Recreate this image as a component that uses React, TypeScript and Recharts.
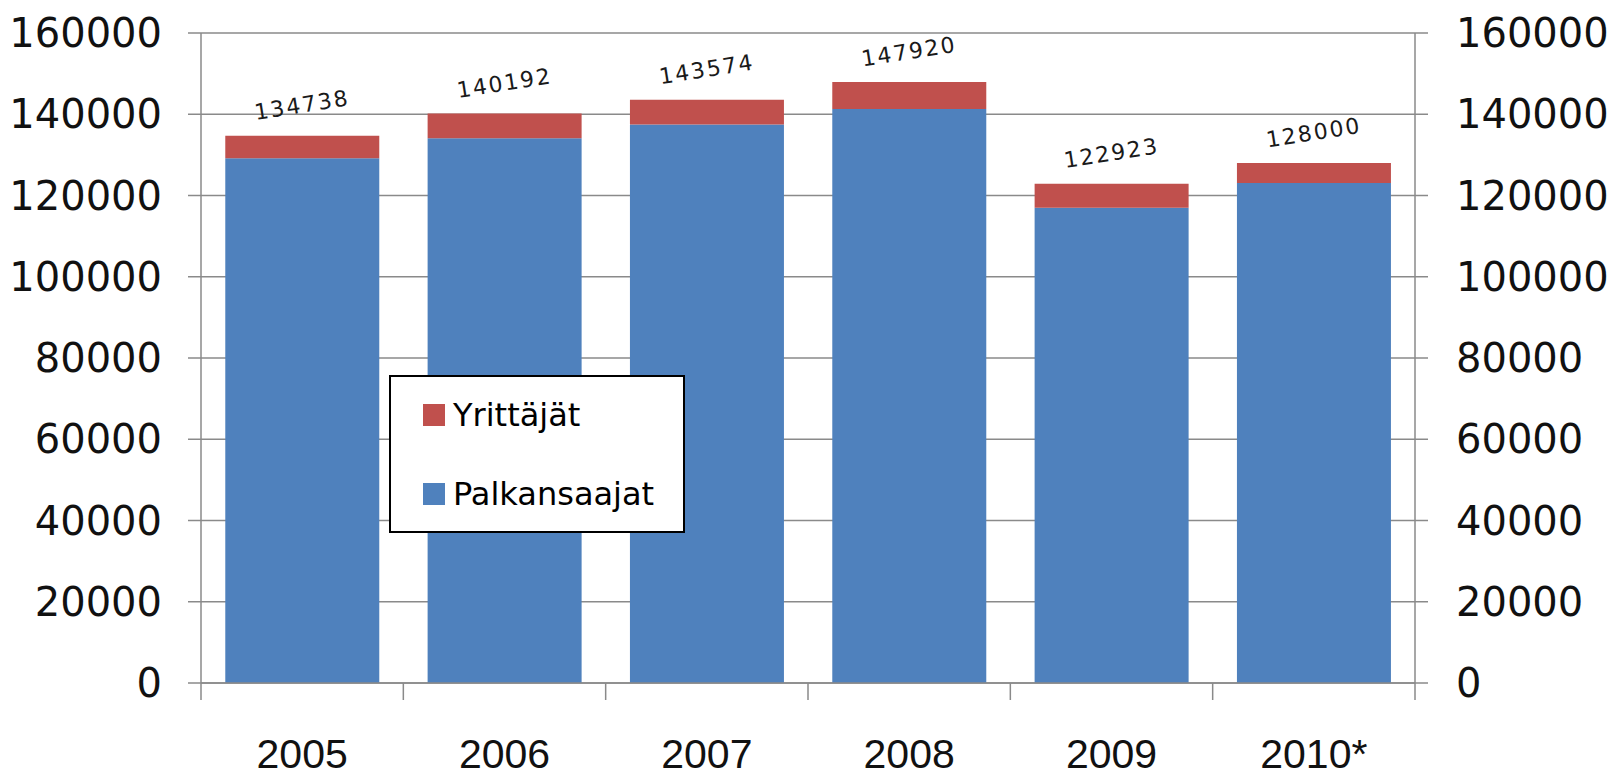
import React from 'react';
import { BarChart, Bar, XAxis, YAxis, CartesianGrid, Legend, LabelList } from 'recharts';

const years = ['2005', '2006', '2007', '2008', '2009', '2010*'];
const palkansaajat = [129200, 134100, 137500, 141300, 117000, 123100];
const yrittajat = [5538, 6092, 6074, 6620, 5923, 4900];
const totals = [134738, 140192, 143574, 147920, 122923, 128000];
const yTicks = [0, 20000, 40000, 60000, 80000, 100000, 120000, 140000, 160000];
// category boundaries for the x axis tick marks
const boundaryTicks = [0, 1, 2, 3, 4, 5, 6];

const data = years.map((year, i) => ({
  year,
  palkansaajat: palkansaajat[i],
  yrittajat: yrittajat[i],
  total: totals[i],
}));

const AXIS = '#8a8a8a';
const yTickStyle = { fill: '#111', fontSize: 40, fontFamily: 'DejaVu Sans' };

const TotalLabel = (props: any) => {
  const { x, y, width, value } = props;
  const cx = Number(x) + Number(width) / 2;
  const cy = Number(y) - 29;
  return (
    <text
      x={cx}
      y={cy}
      transform={`rotate(-9 ${cx} ${cy})`}
      textAnchor="middle"
      dominantBaseline="middle"
      fill="#1a1a1a"
      fontSize={22}
      letterSpacing={2}
      fontFamily="DejaVu Sans"
    >
      {value}
    </text>
  );
};

const LegendBox = (props: any) => {
  const items = [...(props.payload || [])].reverse();
  return (
    <div
      style={{
        border: '2px solid #000',
        background: '#fff',
        boxSizing: 'border-box',
        width: 296,
        height: 158,
        paddingTop: 18,
        paddingLeft: 32,
      }}
    >
      {items.map((item: any, i: number) => (
        <div
          key={item.value}
          style={{ display: 'flex', alignItems: 'center', height: 40, marginTop: i === 0 ? 0 : 39 }}
        >
          <span style={{ width: 22, height: 22, background: item.color, display: 'inline-block' }} />
          <span style={{ marginLeft: 8, fontSize: 32, fontFamily: 'DejaVu Sans', color: '#000' }}>
            {item.value}
          </span>
        </div>
      ))}
    </div>
  );
};

export default function App() {
  return (
    <div style={{ position: 'absolute', left: 0, top: 0, background: '#fff' }}>
      <BarChart
        width={1608}
        height={776}
        data={data}
        margin={{ top: 33, right: 0, bottom: 0, left: 0 }}
        barCategoryGap="12%"
      >
        <CartesianGrid
          xAxisId="cat"
          yAxisId="left"
          vertical={false}
          stroke={AXIS}
          strokeWidth={1.5}
        />
        {/* numeric helper axis: draws the tick marks between the categories */}
        <XAxis
          xAxisId="bounds"
          type="number"
          dataKey="total"
          domain={[0, 6]}
          ticks={boundaryTicks}
          allowDataOverflow
          height={1}
          tickSize={17}
          tickFormatter={() => ''}
          axisLine={{ stroke: AXIS, strokeWidth: 1.5 }}
          tickLine={{ stroke: AXIS, strokeWidth: 1.5 }}
        />
        <XAxis
          xAxisId="cat"
          dataKey="year"
          height={92}
          axisLine={false}
          tickLine={false}
          tickSize={0}
          tickMargin={55}
          tick={{ fill: '#111', fontSize: 41, fontFamily: 'Liberation Sans' }}
        />
        <YAxis
          yAxisId="left"
          width={201}
          domain={[0, 160000]}
          ticks={yTicks}
          tickSize={13}
          tickMargin={26}
          tick={yTickStyle}
          axisLine={{ stroke: AXIS, strokeWidth: 1.5 }}
          tickLine={{ stroke: AXIS, strokeWidth: 1.5 }}
        />
        <YAxis
          yAxisId="right"
          orientation="right"
          type="number"
          width={193}
          domain={[0, 160000]}
          ticks={yTicks}
          allowDataOverflow
          tickSize={13}
          tickMargin={28}
          tick={yTickStyle}
          axisLine={{ stroke: AXIS, strokeWidth: 1.5 }}
          tickLine={{ stroke: AXIS, strokeWidth: 1.5 }}
        />
        <Legend
          layout="horizontal"
          align="center"
          verticalAlign="middle"
          content={<LegendBox />}
          wrapperStyle={{ left: 389, top: 375, width: 296, height: 158 }}
        />
        <Bar
          xAxisId="cat"
          yAxisId="left"
          dataKey="palkansaajat"
          name="Palkansaajat"
          stackId="a"
          fill="#4F81BD"
          isAnimationActive={false}
        />
        <Bar
          xAxisId="cat"
          yAxisId="left"
          dataKey="yrittajat"
          name="Yrittäjät"
          stackId="a"
          fill="#C0504D"
          isAnimationActive={false}
        >
          <LabelList dataKey="total" content={<TotalLabel />} />
        </Bar>
      </BarChart>
    </div>
  );
}
